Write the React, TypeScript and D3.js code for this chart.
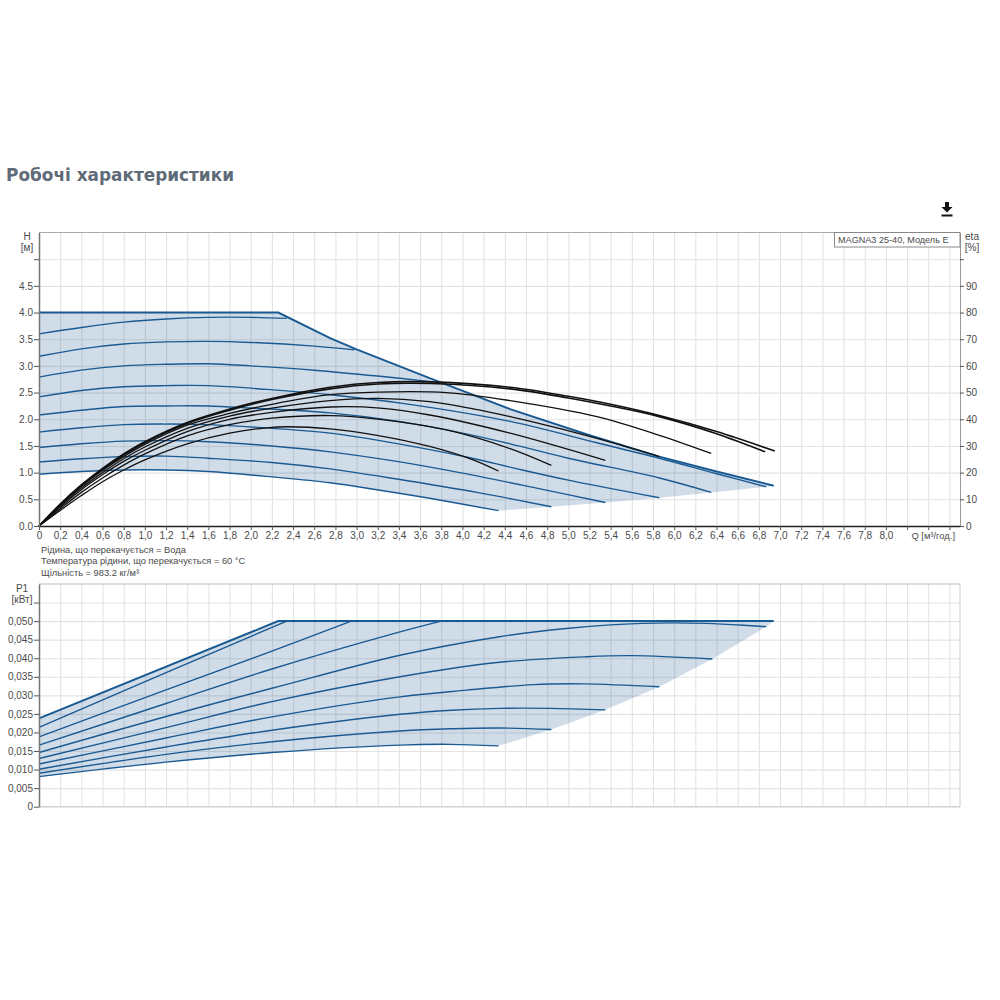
import React, { useEffect, useRef } from "react";
import * as d3 from "d3";

type Pt = [number, number];

const title = "Робочі характеристики";
const legendLabel = "MAGNA3 25-40, Модель E";
const notes = [
  "Рідина, що перекачується = Вода",
  "Температура рідини, що перекачується = 60 °C",
  "Щільність = 983.2 кг/м³",
];

// Q-H: limit curve + speed curves, top to bottom
const hLimit: Pt[] = [[0, 4.0], [2.26, 4.0], [2.75, 3.52], [3.0, 3.31], [3.69, 2.77], [4.45, 2.19], [5.2, 1.7], [5.86, 1.3], [6.4, 1.02], [6.94, 0.755]];
const hA: Pt[] = [[0, 3.6], [0.4, 3.72], [0.8, 3.82], [1.2, 3.88], [1.6, 3.91], [2.0, 3.91], [2.34, 3.89]];
const hB: Pt[] = [[0, 3.18], [0.4, 3.32], [0.8, 3.41], [1.2, 3.45], [1.6, 3.46], [2.0, 3.44], [2.6, 3.37], [2.98, 3.3]];
const hC: Pt[] = [[0, 2.79], [0.4, 2.92], [0.8, 3.0], [1.2, 3.03], [1.6, 3.04], [2.0, 3.0], [2.6, 2.92], [3.2, 2.81], [3.72, 2.7]];
const hD: Pt[] = [[0, 2.42], [0.4, 2.54], [0.8, 2.61], [1.2, 2.63], [1.6, 2.63], [2.15, 2.56], [2.75, 2.46], [3.5, 2.28], [4.45, 1.96], [5.27, 1.56], [5.86, 1.27], [6.4, 0.98], [6.87, 0.735]];
const hE: Pt[] = [[0, 2.08], [0.4, 2.17], [0.8, 2.24], [1.2, 2.25], [1.6, 2.25], [2.0, 2.21], [2.75, 2.12], [3.4, 1.96], [4.0, 1.74], [4.45, 1.54], [5.0, 1.27], [5.86, 0.9], [6.35, 0.63]];
const hF: Pt[] = [[0, 1.76], [0.4, 1.84], [0.8, 1.9], [1.2, 1.91], [1.6, 1.9], [2.2, 1.83], [2.75, 1.74], [3.22, 1.6], [4.07, 1.28], [4.5, 1.08], [5.0, 0.86], [5.86, 0.53]];
const hG: Pt[] = [[0, 1.47], [0.4, 1.54], [0.8, 1.59], [1.2, 1.6], [1.6, 1.58], [2.2, 1.5], [2.75, 1.39], [3.38, 1.21], [4.0, 0.99], [4.7, 0.71], [5.35, 0.44]];
const hH: Pt[] = [[0, 1.2], [0.4, 1.26], [0.8, 1.3], [1.2, 1.31], [1.6, 1.27], [2.2, 1.19], [2.75, 1.07], [3.38, 0.88], [4.16, 0.62], [4.84, 0.36]];
const hI: Pt[] = [[0, 0.97], [0.4, 1.02], [0.8, 1.05], [1.2, 1.05], [1.6, 1.02], [2.2, 0.92], [2.75, 0.81], [3.19, 0.68], [3.69, 0.52], [4.34, 0.287]];

// efficiency, percent
const eta1: Pt[] = [[0, 0], [0.2, 8.2], [0.4, 15.4], [0.6, 21.6], [0.8, 27], [1.0, 31.6], [1.4, 38.8], [1.8, 43.8], [2.2, 47.8], [2.75, 52], [3.2, 53.8], [3.7, 54], [4.45, 52], [5.0, 48.6], [5.4, 45.6], [5.86, 41.4], [6.4, 35.4], [6.95, 28.1]];
const eta2: Pt[] = [[0, 0], [0.2, 8], [0.4, 15.2], [0.6, 21.2], [0.8, 26.6], [1.0, 31.2], [1.4, 38.4], [1.8, 43.4], [2.2, 47.4], [2.75, 51.4], [3.2, 53.2], [3.7, 53.4], [4.45, 51.4], [5.0, 48], [5.4, 45], [5.86, 41], [6.4, 34.6], [6.86, 27.8]];
const eta3: Pt[] = [[0, 0], [0.2, 7.8], [0.4, 14.8], [0.6, 20.8], [0.8, 26], [1.0, 30.6], [1.4, 37.8], [1.8, 42.2], [2.2, 45.6], [2.75, 49.2], [3.2, 50.2], [3.85, 50], [4.45, 47], [5.27, 41], [5.86, 34], [6.35, 27.2]];
const eta4: Pt[] = [[0, 0], [0.2, 7.4], [0.4, 14.2], [0.6, 20], [0.8, 25.2], [1.0, 29.6], [1.4, 36.6], [1.8, 41.2], [2.2, 44.2], [2.75, 47], [3.2, 47.8], [3.69, 46.6], [4.1, 43.9], [4.45, 41], [4.95, 36.2], [5.4, 31.4], [5.86, 26]];
const eta5: Pt[] = [[0, 0], [0.2, 7], [0.4, 13.6], [0.6, 19.2], [0.8, 24.2], [1.0, 28.4], [1.4, 35.4], [1.8, 40], [2.2, 42.6], [2.75, 44.6], [3.22, 44.2], [3.69, 41.6], [4.45, 34.8], [5.35, 24.6]];
const eta6: Pt[] = [[0, 0], [0.2, 6.4], [0.4, 12.6], [0.6, 18], [0.8, 22.8], [1.0, 27], [1.4, 33.8], [1.8, 38], [2.2, 40.4], [2.75, 41.4], [3.22, 40], [3.85, 36], [4.45, 29], [4.84, 22.7]];
const eta7: Pt[] = [[0, 0], [0.2, 5.8], [0.4, 11.4], [0.6, 16.6], [0.8, 21], [1.0, 24.8], [1.4, 30.8], [1.8, 34.8], [2.15, 36.8], [2.35, 37.2], [2.75, 36.4], [3.22, 33.8], [3.69, 29.8], [4.1, 24.8], [4.34, 20.6]];

// Q-P1: limit curve + speed curves
const pLimit: Pt[] = [[0, 0.0238], [2.26, 0.05], [6.94, 0.05]];
const pA: Pt[] = [[0, 0.0214], [1.2, 0.0361], [2.34, 0.05]];
const pB: Pt[] = [[0, 0.0188], [1.2, 0.0315], [2.2, 0.0419], [2.95, 0.05]];
const pC: Pt[] = [[0, 0.0166], [1.2, 0.0278], [2.2, 0.0371], [3.41, 0.0471], [3.8, 0.05]];
const pD: Pt[] = [[0, 0.0146], [1.2, 0.0243], [2.2, 0.0319], [3.41, 0.0408], [4.35, 0.0458], [4.98, 0.048], [5.7, 0.0494], [6.3, 0.0494], [6.87, 0.0485]];
const pE: Pt[] = [[0, 0.013], [1.2, 0.0213], [2.2, 0.0283], [3.41, 0.035], [4.35, 0.0389], [5.17, 0.0404], [5.6, 0.0407], [6.36, 0.0398]];
const pF: Pt[] = [[0, 0.0115], [1.2, 0.0185], [2.2, 0.0242], [3.41, 0.0296], [4.04, 0.0314], [4.67, 0.0329], [5.15, 0.0331], [5.86, 0.0323]];
const pG: Pt[] = [[0, 0.0101], [1.2, 0.0161], [2.2, 0.0206], [3.41, 0.0249], [3.9, 0.026], [4.35, 0.0265], [4.83, 0.0265], [5.35, 0.0261]];
const pH: Pt[] = [[0, 0.009], [1.2, 0.0141], [2.2, 0.0175], [3.41, 0.0204], [3.9, 0.021], [4.35, 0.0212], [4.84, 0.0208]];
const pI: Pt[] = [[0, 0.0081], [1.2, 0.012], [2.2, 0.0146], [3.41, 0.0166], [3.88, 0.0168], [4.34, 0.0164]];

const hCurves = [hA, hB, hC, hD, hE, hF, hG, hH, hI];
const etaCurves = [eta1, eta2, eta3, eta4, eta5, eta6, eta7];
const pCurves = [pA, pB, pC, pD, pE, pF, pG, pH, pI];

const qTicks = d3.range(0, 44).map((i) => i / 5);
const hTicks = d3.range(0, 11).map((i) => i / 2);
const etaTicks = d3.range(0, 11).map((i) => i * 10);
const pTicks = d3.range(0, 12).map((i) => i * 0.005);

const BLUE = "#1a5a92";
const BLACK = "#111";
const TEXT = "#4a4a4a";
const FONT = "'Liberation Sans', Arial, sans-serif";

const x = d3.scaleLinear().domain([0, 8.7]).range([39, 960]);
const yH = d3.scaleLinear().domain([0, 5.5]).range([526, 232.5]);
const yEta = d3.scaleLinear().domain([0, 110]).range([526, 232.5]);
const yP = d3.scaleLinear().domain([0, 0.06]).range([806.7, 584]);

const smooth = d3.line<Pt>().curve(d3.curveCatmullRom.alpha(0.5));
const straight = d3.line<Pt>();

// shaded envelope: limit curve, the curve ends, back along the lowest curve
const envelope = (limit: Pt[], curves: Pt[][], yS: d3.ScaleLinear<number, number>) => {
  const scaled = (pts: Pt[]) => pts.map((d) => [x(d[0]), yS(d[1])] as Pt);
  const ends = [limit[limit.length - 1], ...curves.slice(3).map((c) => c[c.length - 1])];
  const lowest = curves[curves.length - 1].slice().reverse();
  return (
    straight(scaled(limit)) +
    "L" + straight(scaled(ends))!.slice(1) +
    "L" + smooth(scaled(lowest))!.slice(1) +
    "Z"
  );
};

const linePath = (pts: Pt[], yS: d3.ScaleLinear<number, number>) =>
  smooth(pts.map((d) => [x(d[0]), yS(d[1])] as Pt)) ?? "";
const limitPath = (pts: Pt[], yS: d3.ScaleLinear<number, number>) =>
  straight(pts.map((d) => [x(d[0]), yS(d[1])] as Pt)) ?? "";

const App = () => {
  const ref = useRef<SVGSVGElement>(null);

  useEffect(() => {
    const svg = d3.select(ref.current);
    const qLabel = (v: number) => {
      if (v === 0) return "0";
      return v > 8.01 ? "" : v.toFixed(1).replace(".", ",");
    };

    // grids
    svg.select<SVGGElement>(".grid-top")
      .call(d3.axisBottom(x).tickValues(qTicks).tickSize(526 - 232.5).tickFormat(() => ""))
      .attr("transform", "translate(0,232.5)");
    svg.select<SVGGElement>(".grid-top-h")
      .call(d3.axisLeft(yH).tickValues(hTicks).tickSize(-(960 - 39)).tickFormat(() => ""))
      .attr("transform", "translate(39,0)");
    svg.select<SVGGElement>(".grid-bottom")
      .call(d3.axisBottom(x).tickValues(qTicks).tickSize(806.7 - 584).tickFormat(() => ""))
      .attr("transform", "translate(0,584)");
    svg.select<SVGGElement>(".grid-bottom-h")
      .call(d3.axisLeft(yP).tickValues(pTicks).tickSize(-(960 - 39)).tickFormat(() => ""))
      .attr("transform", "translate(39,0)");
    svg.selectAll(".grid .domain").remove();
    svg.selectAll(".grid line").attr("stroke", "#e3e3e3").attr("stroke-width", 1.1);

    // axes
    svg.select<SVGGElement>(".axis-q")
      .attr("transform", "translate(0,526)")
      .call(d3.axisBottom(x).tickValues(qTicks).tickSize(4).tickSizeOuter(0).tickPadding(2).tickFormat((v) => qLabel(+v)));
    svg.select<SVGGElement>(".axis-h")
      .attr("transform", "translate(39,0)")
      .call(d3.axisLeft(yH).tickValues(hTicks).tickSize(5).tickSizeOuter(0).tickPadding(1)
        .tickFormat((v) => (+v > 4.5 ? "" : (+v).toFixed(1))));
    svg.select<SVGGElement>(".axis-eta")
      .attr("transform", "translate(960,0)")
      .call(d3.axisRight(yEta).tickValues(etaTicks).tickSize(4).tickSizeOuter(0).tickPadding(2)
        .tickFormat((v) => (+v > 90 ? "" : String(v))));
    svg.select<SVGGElement>(".axis-p")
      .attr("transform", "translate(39,0)")
      .call(d3.axisLeft(yP).tickValues(pTicks).tickSize(5).tickSizeOuter(0).tickPadding(1)
        .tickFormat((v) => (+v === 0 ? "0" : +v > 0.0501 ? "" : (+v).toFixed(3).replace(".", ","))));
    svg.selectAll(".axis text").attr("font-family", FONT).attr("font-size", 10).attr("fill", TEXT);
    svg.selectAll(".axis line").attr("stroke", "#555");
    svg.selectAll(".axis .domain").attr("stroke", "#777").attr("stroke-width", 1.5);
    svg.select(".axis-q .domain").attr("stroke", "#222");
    svg.select(".axis-eta .domain").attr("stroke-width", 1).attr("stroke", "#999");
  }, []);

  return (
    <svg
      ref={ref}
      width={1000}
      height={1000}
      style={{ position: "absolute", left: 0, top: 0, display: "block" }}
    >
      <rect width={1000} height={1000} fill="#fff" />
      <text x={6} y={180.500} fontFamily="'DejaVu Sans', Verdana, sans-serif" fontWeight="bold" fontSize={16.9} fill="#5f6b78">
        {title}
      </text>

      {/* download icon */}
      <g fill="#111">
        <path d="M945 202h4v5h3.5l-5.5 5.5l-5.5-5.5h3.500z" />
        <rect x={941.500} y={214.500} width={11} height={2} />
      </g>

      <g className="grid grid-top" />
      <g className="grid grid-top-h" />
      <g className="grid grid-bottom" />
      <g className="grid grid-bottom-h" />

      <path d={envelope(hLimit, hCurves, yH)} fill="#17508f" opacity={0.2} />
      <path d={envelope(pLimit, pCurves, yP)} fill="#17508f" opacity={0.2} />

      {hCurves.map((c, i) => (
        <path key={i} d={linePath(c, yH)} fill="none" stroke={BLUE} strokeWidth={1.4} />
      ))}
      <path d={limitPath(hLimit, yH)} fill="none" stroke={BLUE} strokeWidth={2} />
      {pCurves.map((c, i) => (
        <path key={i} d={linePath(c, yP)} fill="none" stroke={BLUE} strokeWidth={1.4} />
      ))}
      <path d={limitPath(pLimit, yP)} fill="none" stroke={BLUE} strokeWidth={2} />
      {etaCurves.map((c, i) => (
        <path key={i} d={linePath(c, yEta)} fill="none" stroke={BLACK} strokeWidth={i < 2 ? 1.6 : 1.3} />
      ))}

      {/* panel frames */}
      <line x1={39} x2={960} y1={232.5} y2={232.5} stroke="#aaa" />
      <line x1={39} x2={960} y1={584} y2={584} stroke="#bbb" />
      <line x1={39} x2={960} y1={806.7} y2={806.7} stroke="#ccc" />
      <line x1={960} x2={960} y1={584} y2={806.7} stroke="#ccc" />

      <g className="axis axis-q" />
      <g className="axis axis-h" />
      <g className="axis axis-eta" />
      <g className="axis axis-p" />

      <g fontFamily={FONT} fontSize={10} fill={TEXT}>
        <text x={27} y={240} textAnchor="middle">H</text>
        <text x={27} y={251} textAnchor="middle">[м]</text>
        <text x={972} y={240} textAnchor="middle">eta</text>
        <text x={972} y={251} textAnchor="middle">[%]</text>
        <text x={22} y={592} textAnchor="middle">P1</text>
        <text x={22} y={603} textAnchor="middle">[кВт]</text>
        <text x={955} y={539} textAnchor="end" fontSize={9.4}>Q [м³/год.]</text>
        {notes.map((n, i) => (
          <text key={i} x={41} y={553 + i * 11.4} fontSize={9.3}>{n}</text>
        ))}
      </g>

      <rect x={834.500} y={232.500} width={125.500} height={14.500} fill="#fff" stroke="#888" />
      <text x={838} y={243} fontFamily={FONT} fontSize={9.1} fill={TEXT}>{legendLabel}</text>
    </svg>
  );
};

export default App;
